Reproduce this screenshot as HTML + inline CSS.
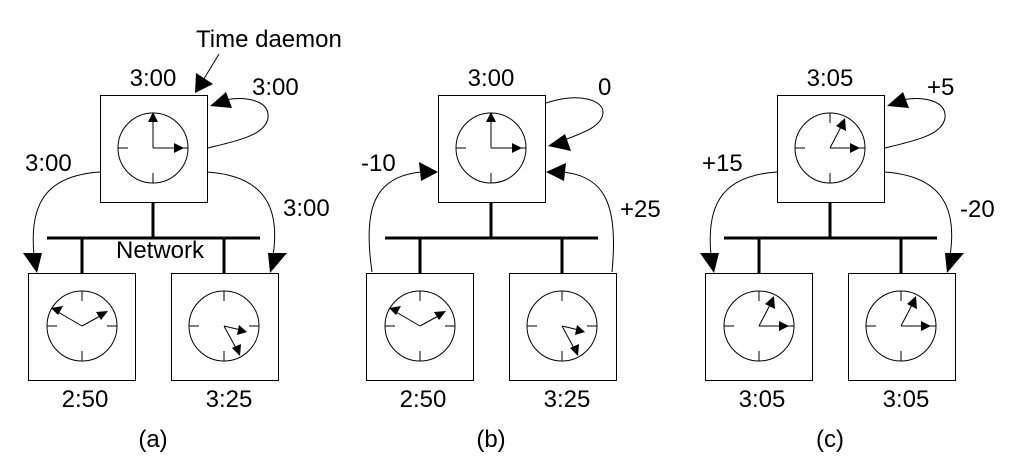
<!DOCTYPE html>
<html><head><meta charset="utf-8"><style>
html,body{margin:0;padding:0;background:#fff;}
svg{display:block;}
text{font-family:"Liberation Sans",Arial,sans-serif;font-size:24px;fill:#000;}
</style></head><body>
<svg id="s" width="1020" height="469" viewBox="0 0 1020 469" xmlns="http://www.w3.org/2000/svg">
<defs>
<g id="face">
<circle cx="0" cy="0" r="35" fill="none" stroke="#000" stroke-width="1"/>
<path d="M0,-35V-25M0,35V25M-35,0H-25M35,0H25" stroke="#000" stroke-width="1"/>
</g>
<g id="c300"><use href="#face"/>
<path d="M0,0V-28M0,0H24" stroke="#000"/>
<polygon points="0,-36 -5,-26 5,-26"/><polygon points="31,0 21,-5 21,5"/></g>
<g id="c250"><use href="#face"/>
<path d="M0,0L-24,-14M0,0L20,-11" stroke="#000"/>
<polygon points="-31,-18 -19,-20 -24,-11"/><polygon points="26,-15 14,-14 19,-6"/></g>
<g id="c325"><use href="#face"/>
<path d="M0,0L13,24M0,0L17,4" stroke="#000"/>
<polygon points="16,30 8,22 17,18"/><polygon points="23,6 13,9 15,-1"/></g>
<g id="c305"><use href="#face"/>
<path d="M0,0L12,-23M0,0H22" stroke="#000"/>
<polygon points="15,-30 6,-22 16,-17"/><polygon points="30,0 20,-5 20,5"/></g>
<g id="frame" fill="none" stroke="#000">
<rect x="0.5" y="95.5" width="107" height="107" stroke-width="1"/>
<rect x="-71.5" y="273.5" width="107" height="107" stroke-width="1"/>
<rect x="71.5" y="273.5" width="107" height="107" stroke-width="1"/>
<path d="M53,202V238M-53,238H160M-18,238V273M124,238V273" stroke-width="3"/>
</g>
<g id="outA">
<path d="M0,172 C-60,176 -70,210 -66,256" fill="none" stroke="#000"/>
<path d="M107,172 C167,176 180,210 173,256" fill="none" stroke="#000"/>
<path d="M108,148 C140,140 165,135 168,118 C170,100 145,96 125,100" fill="none" stroke="#000"/>
<polygon points="-63,273 -77,253 -58,253"/>
<polygon points="170,273 168,253 187,253"/>
<polygon points="110,106 126,92 132,108"/>
</g>
</defs>

<!-- (a) -->
<g transform="translate(100,0)">
<use href="#frame"/>
<use href="#c300" x="53" y="148"/>
<use href="#c250" x="-18" y="326"/>
<use href="#c325" x="124" y="326"/>
<use href="#outA"/>
<path d="M119,54 L102,82" fill="none" stroke="#000"/>
<polygon points="95,93 96,73 113,84"/>
<text x="53" y="86" text-anchor="middle">3:00</text>
<text x="-75" y="171">3:00</text>
<text x="152" y="95">3:00</text>
<text x="183" y="216">3:00</text>
<text x="96" y="47">Time daemon</text>
<text x="16" y="258">Network</text>
<text x="-15" y="407" text-anchor="middle">2:50</text>
<text x="129" y="407" text-anchor="middle">3:25</text>
<text x="53" y="447" text-anchor="middle">(a)</text>
</g>

<!-- (b) -->
<g transform="translate(438,0)">
<use href="#frame"/>
<use href="#c300" x="53" y="148"/>
<use href="#c250" x="-18" y="326"/>
<use href="#c325" x="124" y="326"/>
<path d="M-66,272 C-75,210 -65,176 -16,172" fill="none" stroke="#000"/>
<path d="M174,272 C180,210 170,176 124,172" fill="none" stroke="#000"/>
<path d="M108,103 C140,92 165,100 165,112 C165,126 145,133 126,140" fill="none" stroke="#000"/>
<polygon points="0,172 -19,162 -17,181"/>
<polygon points="108,172 128,163 126,181"/>
<polygon points="110,146 127,134 133,151"/>
<text x="53" y="86" text-anchor="middle">3:00</text>
<text x="-77" y="171">-10</text>
<text x="160" y="95">0</text>
<text x="182" y="217">+25</text>
<text x="-15" y="407" text-anchor="middle">2:50</text>
<text x="129" y="407" text-anchor="middle">3:25</text>
<text x="53" y="447" text-anchor="middle">(b)</text>
</g>

<!-- (c) -->
<g transform="translate(777,0)">
<use href="#frame"/>
<use href="#c305" x="53" y="148"/>
<use href="#c305" x="-18" y="326"/>
<use href="#c305" x="124" y="326"/>
<use href="#outA"/>
<text x="53" y="86" text-anchor="middle">3:05</text>
<text x="-75" y="171">+15</text>
<text x="150" y="95">+5</text>
<text x="183" y="217">-20</text>
<text x="-15" y="407" text-anchor="middle">3:05</text>
<text x="129" y="407" text-anchor="middle">3:05</text>
<text x="53" y="447" text-anchor="middle">(c)</text>
</g>
</svg>
</body></html>
